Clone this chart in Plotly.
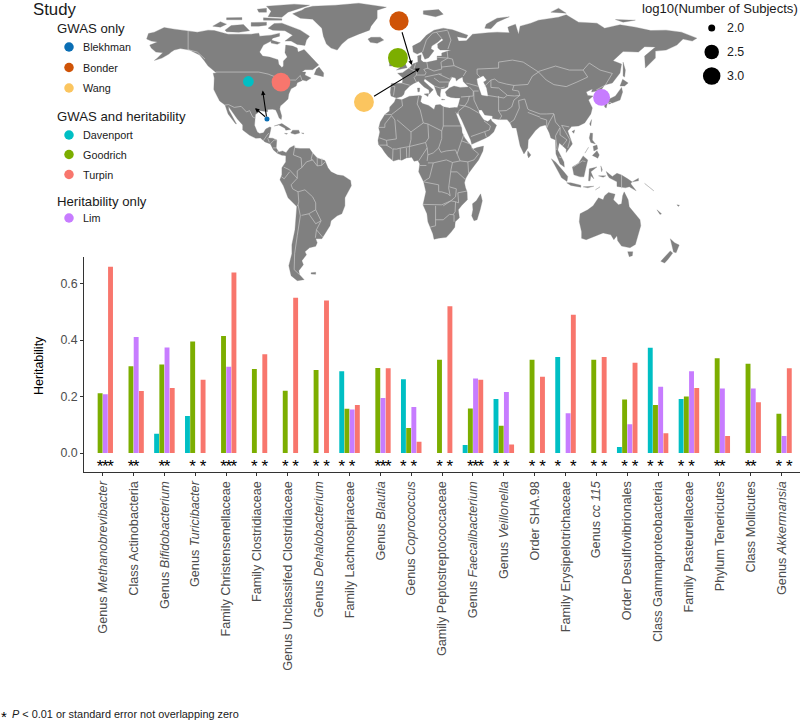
import numpy as np
import plotly.graph_objects as go

# ---------- bar chart data ----------
categories = ["Genus <i>Methanobrevibacter</i>", "Class Actinobacteria", "Genus <i>Bifidobacterium</i>",
              "Genus <i>Turicibacter</i>", "Family Christensenellaceae", "Family Clostridiaceae",
              "Genus Unclassifed Clostridiaceae", "Genus <i>Dehalobacterium</i>", "Family Lachnospiraceae",
              "Genus <i>Blautia</i>", "Genus <i>Coprococcus</i>", "Gamily Peptostreptococcaceae",
              "Genus <i>Faecalibacterium</i>", "Genus <i>Veillonella</i>", "Order SHA.98",
              "Family Erysipelotrichaceae", "Genus <i>cc 115</i>", "Order Desulfovibrionales",
              "Class Gammaproteobacteria", "Family Pasteurellaceae", "Phylum Tenericutes",
              "Class Mollicutes", "Genus <i>Akkermansia</i>"]
davenport = [None, None, 0.068, 0.131, None, None, None, None, 0.29, None, 0.261, None, 0.028, 0.191, None,
             0.34, None, 0.021, 0.373, 0.191, None, None, None]
goodrich = [0.212, 0.307, 0.314, 0.395, 0.415, 0.298, 0.221, 0.294, 0.157, 0.301, 0.089, 0.33, 0.158, 0.097,
            0.33, None, 0.33, 0.19, 0.17, 0.2, 0.336, 0.316, 0.139]
lim = [0.208, 0.411, 0.374, None, 0.306, None, None, None, 0.154, 0.195, 0.163, None, 0.264, 0.216, None,
       0.141, None, 0.102, 0.235, 0.29, 0.229, 0.229, 0.06]
turpin = [0.66, 0.22, 0.23, 0.26, 0.64, 0.35, 0.55, 0.54, 0.17, 0.30, 0.04, 0.52, 0.26, 0.03, 0.27, 0.49,
          0.34, 0.32, 0.07, 0.23, 0.06, 0.18, 0.30]
# which studies are significant in each category: D, G, L, T
significant = ["GLT", "GL", "GL", "GT", "GLT", "GT", "GT", "GT", "DL", "GLT", "DL", "GT", "GLT", "DL", "GT",
               "DT", "GT", "GT", "DL", "DL", "GL", "GL", "GT"]
y_ticks = [0.0, 0.2, 0.4, 0.6]

# ---------- study data ----------
study_names = ["Blekhman", "Bonder", "Wang", "Davenport", "Goodrich", "Turpin", "Lim"]
study_lon = [-89.7, -3.8, -26.6, -101.8, -4.5, -80.6, 128.0]
study_lat = [25.5, 74.6, 34.0, 44.3, 56.1, 44.0, 36.3]
study_log10n = [1.9, 3.15, 3.2, 2.25, 3.2, 3.1, 2.9]
study_groups = [("GWAS only", ["Blekhman", "Bonder", "Wang"]),
                ("GWAS and heritability", ["Davenport", "Goodrich", "Turpin"]),
                ("Heritability only", ["Lim"])]
size_legend_values = [2.0, 2.5, 3.0]
# arrows: (tail lon, tail lat, head lon, head lat)
arrows = [(-89.9, 26.0, -92.5, 39.7), (-89.9, 26.0, -97.5, 30.9),
          (-2.1, 69.7, 4.5, 52.5), (-21.0, 36.4, 9.8, 50.9)]

# ---------- map outlines (lon, lat) ----------
land = [
 # North America
 [(-168,65.6),(-166.8,68.3),(-163,69),(-156.6,71.3),(-150,70.5),(-141,69.6),(-135,69),(-128,70),(-124,69.8),(-115,68),(-108,68),(-100,68),(-95,68.5),(-94.5,67),(-87,67.5),(-81.5,68.5),(-81.5,67),(-86,66),(-87,64.5),(-92,62.5),(-94.5,59),(-92.5,57),(-88,56.5),(-82.5,55.2),(-82,52.9),(-80,51.3),(-79,52),(-79,54.5),(-76.5,56.5),(-78,58.7),(-77.5,62.5),(-73,62),(-70,61),(-69.5,59),(-65.5,60.3),(-62,57.5),(-60,55.5),(-56,52.5),(-60,50.2),(-65,50.2),(-67,49),(-64.5,49),(-65,47.5),(-61,46),(-64,44.5),(-66.5,45),(-67,44.7),(-70,43.7),(-70.7,42),(-74,40.6),(-75.5,38),(-76,35.5),(-78,34),(-81,32),(-81.4,30.5),(-80.1,27),(-80.4,25.2),(-81.8,26),(-82.8,28),(-84,30),(-86,30.4),(-89.3,30.2),(-89.3,29.1),(-91,29.3),(-94,29.6),(-97.2,27.7),(-97.7,24),(-97.8,22.3),(-96,19),(-94.5,18.2),(-92,18.6),(-90.5,20.5),(-88,21.5),(-87,21.2),(-87.8,18.2),(-88.8,16),(-86,15.9),(-83.3,15),(-83.7,11),(-82,9),(-79.5,9.5),(-77.3,8.6),(-77.9,7.2),(-80,7.3),(-81.5,7.8),(-83,8.3),(-85.5,10),(-87.5,13),(-91,14),(-94,16),(-97,15.8),(-101,17.3),(-105.5,20),(-105.5,22.5),(-109,25.5),(-112.5,29),(-114.7,31.7),(-114.5,30),(-111,25),(-109.5,23),(-110.3,23.2),(-112.3,25.5),(-115,28),(-117,32.5),(-120.5,34.5),(-122.5,37.5),(-124.3,40.3),(-124,46),(-124.7,48.4),(-122.5,48.5),(-125,50),(-128,52),(-130.5,54.7),(-133.5,57.5),(-137.5,59),(-140,60),(-146,60.8),(-150,60),(-152,59),(-153.5,58),(-158,56),(-163,54.8),(-161,56),(-157.5,58.7),(-162,59),(-165,61),(-166,62.5),(-161,64),(-165,64.5)],
 # Arctic Canada
 [(-80,73.5),(-72,71.3),(-68,70),(-62,67),(-64,65),(-65,62.3),(-70,62.8),(-74,64.5),(-78,64.5),(-73,67.5),(-78,69.7),(-86,70),(-89,71),(-85,73.3)],
 [(-117,70),(-113,72.3),(-105,72.8),(-101,69.7),(-108,68.9),(-116,69.2)],
 [(-125,72),(-120,74.2),(-116,73),(-120,71.5)],
 [(-89,76.7),(-80,76.4),(-76,79),(-65,81.5),(-62,82.5),(-72,83),(-90,82),(-87,79.5)],
 [(-92,75),(-80,75),(-80,75.7),(-92,76.2)],
 [(-95,79),(-90,79),(-90,81),(-96,80.5)],
 [(-116,75.2),(-106,75.2),(-106,76.3),(-116,76.2)],
 [(-100,72),(-95,72),(-90,72.5),(-90,74),(-100,73.8)],
 [(-87,65),(-81,63.7),(-83,62.9),(-87,63.5)],
 [(-59,47.8),(-53,46.7),(-52.8,48.5),(-55.8,51.5),(-57.5,50.5)],
 # Caribbean
 [(-85,22),(-80,23.2),(-75,20.7),(-74.2,20.2),(-77.5,19.9),(-78,20.8),(-82,22.5)],
 [(-74.3,18.5),(-73,19.9),(-69,19.9),(-68.4,18.5),(-71.5,17.8)],
 [(-78.3,18.3),(-76.3,18.2),(-77,17.8)],
 [(-67.2,18.5),(-65.7,18.4),(-66,18)],
 # Greenland, Iceland
 [(-73,78.2),(-68,76),(-60,75.5),(-54,71),(-53,67),(-51,63),(-48,61),(-44,60),(-41,63),(-37,65.7),(-30,68),(-23,70),(-22,72),(-18,76),(-18,80),(-12,81.5),(-30,83.5),(-45,82.5),(-60,82),(-65,81),(-67,80)],
 [(-24,65.5),(-22,66.4),(-16,66.5),(-13.7,65),(-18,63.4),(-22.5,63.9)],
 # South America
 [(-77.3,8.6),(-75,11),(-72,12.2),(-71.5,11),(-68,10.7),(-64,10.5),(-62,10.7),(-60,8.4),(-57,6),(-52,4.7),(-50,1),(-48,-1),(-44,-2.5),(-40,-2.9),(-35.3,-5.3),(-34.8,-8),(-37,-11),(-39,-14),(-39,-18),(-41,-22),(-44,-23),(-48,-25.5),(-48.7,-28),(-52,-32.5),(-54,-34.5),(-58,-34.5),(-57,-36.5),(-58,-38.3),(-62,-39),(-65,-41),(-64,-42.5),(-67,-45.5),(-66,-47.5),(-69,-50.5),(-68.5,-52.5),(-65.5,-55),(-70,-55.5),(-74,-53),(-75.5,-48),(-73.5,-42),(-73.5,-37.5),(-71.5,-30),(-70.5,-23),(-70.3,-18.3),(-76,-14),(-79,-8),(-81.3,-5),(-80,-2.5),(-80,1),(-77.5,4),(-77.4,7),(-77.9,7.2)],
 [(-61,-51.5),(-58,-51.3),(-58,-52.3),(-61,-52.2)],
 # Africa
 [(-5.9,35.8),(-2,35.1),(3,36.9),(10,37.3),(11,36.9),(10.2,34.3),(11.5,33.2),(15.5,32.3),(19,30.3),(20,32.5),(23,32.7),(25,31.6),(29,31),(32.3,31.2),(32.5,29.9),(33.8,27),(35.5,24),(37,21),(37.3,18.7),(39,16),(41.5,13.5),(43.3,12),(43.2,11.5),(44.5,10.4),(47,11.2),(51.2,11.9),(50.8,9.5),(48,5),(45,2),(41.5,-1.7),(39.5,-4.5),(38.8,-6.5),(39.5,-9),(40.5,-11),(40.7,-15),(37,-17.8),(34.8,-20),(35.5,-24),(32.8,-26),(32.5,-28.7),(30,-31.3),(27,-33.8),(22,-34.2),(19,-34.8),(18.2,-32),(16.5,-28.7),(15,-26),(14.4,-22),(11.8,-17.5),(13.7,-11),(12.2,-6),(9,-1),(9.7,3),(8.5,4.7),(6,4.3),(4.5,6.3),(1,6),(-2,4.8),(-4,5.2),(-7.5,4.4),(-11,6.7),(-13.3,9),(-15,11),(-17,12.5),(-17.5,14.7),(-16.3,19),(-17,21),(-16,24),(-13,27.7),(-10,29.5),(-9.8,31.5),(-6.8,34)],
 [(49.3,-12),(50.4,-15.5),(49,-20),(47,-25),(45,-25.5),(43.5,-23),(44.3,-20),(44,-17),(46.5,-15.5)],
 # Eurasia
 [(-9,37),(-9.5,38.8),(-8.8,43.3),(-1.7,43.4),(-1.2,46),(-4.7,48.4),(-1.5,48.7),(1.5,50.5),(3.5,51.4),(5,53),(8.5,54),(8.3,57),(10.6,57.7),(10.5,55),(12,54),(14.3,53.9),(18.5,54.7),(21,55),(21,57),(24,57),(24,58.5),(28,59.5),(30,60),(23,60),(21.5,61),(21.3,63),(25,65),(24,65.8),(21.5,64),(17.5,62),(17,60.7),(19,59.7),(16.5,57),(15.5,56.2),(13,55.4),(11,59),(8,58),(5.5,59),(5,62),(10,64),(14,67.5),(19,70),(25,71),(31,70.2),(41,67.5),(40,66),(34,66.7),(35,64.5),(40,64.7),(44,68),(54,68.7),(60,69),(68,68.7),(67,71.5),(72,73),(74,68),(75,72),(82,73.5),(87,75),(100,76.5),(105,77.7),(113,74),(125,73.5),(130,71),(140,72.7),(150,71.5),(160,69.8),(170,70),(180,69),(190,66),(187,64.5),(181,65.5),(177,62.5),(170,60),(163,59.5),(163,56),(156.5,51),(156,57),(163,61.5),(156,61.7),(152,59),(142,59.3),(135.5,54.7),(141,53),(140,48.5),(135,43.5),(130,42.5),(127.5,39.8),(129.5,36.5),(126.5,34.5),(126,37),(125,39.5),(121.5,39),(122,40.5),(118,39),(119,37.3),(122.5,37),(119.5,35),(122,31),(121,28),(117,23.5),(113,22),(108.5,21.7),(106,19.5),(109,13),(107,10.5),(105,8.7),(105,10.3),(102,12.5),(100.5,13.5),(99.5,10),(103.5,4),(103.8,1.4),(101,3),(98.3,8),(98,15),(95,16),(94,18.5),(91.5,22.5),(88,21.7),(85,19.7),(80.3,15),(80,11),(77.5,8),(75,12),(73,18),(72.5,21),(70,21),(68.5,23.5),(66.5,25.2),(61,25.2),(57,25.7),(57,27),(52,27.5),(50,30),(48,30),(48.3,28.5),(50,26.5),(51.5,25),(54,24.2),(56,25.5),(56.5,24.5),(59.7,22.4),(57.8,19),(55,17),(52,15.7),(45,13),(43.5,12.8),(42.8,15),(41,18.5),(39,21.5),(37,25),(35,28),(34.8,29.5),(34,28),(33,29),(32.5,29.9),(32.3,31.2),(34.2,31.3),(35,33),(36,36),(33,36),(30,36.3),(27.3,37),(26.3,39),(29,41),(32,42),(36,41.3),(41.5,41.5),(38,44.3),(37.5,46.5),(35,45.5),(33.5,44.5),(33,46),(30.7,46.5),(28.5,43.5),(28,41.5),(26,40.8),(23.5,40.5),(23,38),(23,36.5),(21.3,37.5),(19.5,41.5),(19,42.3),(14,45),(13,45.7),(12.3,44.5),(16,41.8),(18.5,40.2),(17,39),(16,38),(15.7,40),(12.5,41.5),(10.5,43),(8.8,44.4),(5.5,43.2),(3.2,42),(0,39.5),(-0.7,37.7),(-2,36.8),(-5.5,36)],
 [(80,9.5),(82,7.5),(80.5,6),(79.8,7.5)],
 [(-5.5,50),(1.5,51.2),(0,53.5),(-2,56),(-2,57.7),(-5,58.6),(-6,56.5),(-3,54.5),(-5,52),(-3,51.3)],
 [(-10,52),(-6,52),(-6,55),(-8,55.3),(-10,54)],
 [(12.5,38),(15.5,38.2),(15,36.7)],
 [(8.2,41),(9.7,41),(9.5,39.2),(8.5,39)],
 [(24,35.5),(26.2,35.2),(24,35)],
 [(52,71),(56,70.7),(60,74),(68,76.7),(60,76),(53,73)],
 [(12,78),(20,76.7),(25,78),(22,80.3),(12,79.7)],
 [(95,79),(105,78.5),(100,81)],
 [(137,75.3),(150,75),(142,74)],
 [(142,54),(143.5,50),(143,46.5),(142,47),(142,51)],
 # Japan, East and South-East Asia
 [(130.9,34),(135,33.5),(140,35),(141.7,39),(141,41.3),(139.8,40),(137,37),(133,35.5)],
 [(130,33.5),(131.7,33.3),(131,31),(130,31.5)],
 [(132.5,34),(134.5,34),(134,33.3),(132.7,32.9)],
 [(140,42),(141.7,45.4),(145.3,43.5),(143,42)],
 [(120.2,23),(121.5,25.2),(121,22)],
 [(108.7,19.2),(110.5,20),(110,18.3)],
 [(120,16),(120.7,18.5),(122.2,18.3),(122,15),(124,13),(121,13.7)],
 [(122,7.2),(125,9.6),(126.5,7.5),(125.5,5.8),(124,6.5)],
 [(122.5,11.8),(125,12.5),(125.5,10.5),(123,9.5)],
 [(117.2,8.4),(119.5,11.3),(119,10)],
 [(109,1.5),(111.5,2.7),(113,3.3),(116,7),(119,5),(117.8,1),(116.5,-3.5),(114,-3.5),(110,-2.5)],
 [(95.3,5.6),(98,4),(103.5,-1),(106,-3.3),(105.5,-5.8),(102,-4),(98.5,1)],
 [(105.3,-6.5),(108,-6.5),(114.5,-7.7),(114.5,-8.7),(108,-7.8)],
 [(119.5,-5.5),(120,0.5),(125,1.5),(121,-1),(123,-4.5),(121,-3),(120.5,-5.5)],
 [(116,-8.5),(123,-8.2),(119,-9)],
 [(124,-10),(127,-8.5),(125,-9.8)],
 [(127.5,2),(128.5,0),(128,-1)],
 [(126,-3),(130.8,-3),(129,-3.7)],
 # New Guinea, Pacific
 [(131,-0.8),(135,-3.3),(138,-1.7),(141,-2.6),(145,-4.5),(147.8,-6),(147,-7),(150.5,-10.5),(146,-8.5),(143.5,-9),(138,-8.3),(138,-6),(133,-4),(132,-2.8)],
 [(148,-6),(152,-4.2),(152,-5.5)],
 [(156,-6.8),(160,-9),(162,-10.5),(158,-8)],
 [(164,-20),(167,-22),(166,-22.3)],
 [(177,-17.5),(178.7,-17.7),(178,-18.3)],
 # Australia, New Zealand
 [(114,-22),(113.5,-26),(115,-31),(115,-34.3),(118,-35),(124,-33),(129,-31.6),(134,-32.5),(136,-35),(138,-33),(138.5,-35.5),(141,-38.2),(146.5,-39),(150,-37.4),(151.5,-33),(153.5,-28),(153,-25),(149,-21),(146,-18.5),(145.3,-15),(142.7,-11),(141.7,-13),(141,-17),(139,-17.5),(135.7,-15),(136.8,-12.2),(132.5,-11.3),(130,-13),(129,-15),(126,-14),(122.5,-18),(119,-20)],
 [(145,-41),(148.3,-41),(148,-43),(146,-43.5)],
 [(172.7,-34.5),(175.5,-36.5),(178.5,-37.7),(176.5,-41.5),(174.8,-41.2),(174,-39)],
 [(172.7,-40.6),(174.3,-41.7),(171,-45),(169,-46.7),(166.5,-45.8),(170,-43)],
]
water = [[(47,45.5),(51,47),(53,45),(51,44),(53,41),(54,37),(50,37.5),(49,39.5),(47.5,43)]]
borders = [
 [(-123,49),(-95,49),(-89,48),(-84,46.5),(-82.5,43),(-79,43),(-75,45),(-71,45),(-68,47.3),(-67,45)],
 [(-141,69.6),(-141,60.2),(-135,59),(-130,55.5)],
 [(-117,32.5),(-114.7,32.7),(-111,31.3),(-106.5,31.8),(-103,29),(-101,29.7),(-99,26.5),(-97.2,25.9)],
 [(-92.2,14.5),(-91,16),(-89.2,17.9),(-88.3,18.4)],[(-89.2,15.9),(-88.2,13.8)],[(-87.5,13),(-85,15),(-83.2,15)],
 [(-85.7,11),(-83.7,11)],[(-83,8.5),(-82.6,9.6)],
 [(-71.5,12),(-72.5,7.5),(-67.5,6),(-67,1.2)],[(-60,8.4),(-61,5.2),(-60,5)],
 [(-60,5),(-64,4),(-67,1.2),(-70,-0.5),(-70,-4.2),(-74,-7.5),(-73,-9.5),(-69.5,-11),(-65,-10),(-60,-13.5),(-58,-16.5),(-58,-20),(-54.5,-25.5),(-57.5,-30),(-53.5,-33.7)],
 [(-60,5),(-57,2),(-54,2.3),(-51.7,4.2)],[(-57,2),(-57,6)],[(-54,2.3),(-54,5.8)],
 [(-78.8,1.4),(-75,0),(-70,-4.2)],[(-80.3,-3.4),(-78.5,-4.5),(-75,-1)],
 [(-69.5,-11),(-69,-16),(-69.5,-17.5),(-70.3,-18.3)],
 [(-69.5,-17.5),(-68,-23),(-70,-33),(-71.7,-42),(-72,-50),(-68.5,-52.5)],
 [(-67.2,-22.8),(-62.5,-22),(-58,-20)],[(-62.5,-22),(-58,-27),(-54.5,-25.5)],[(-58.2,-34),(-57.5,-30)],
 [(-2,35),(-1.5,32),(-8.7,27.7),(-13,27.7)],[(-17,21.3),(-13,21.3),(-13,23),(-8.7,27.2)],
 [(-16.5,16),(-12,14.8),(-5.5,15.5),(-6.5,25),(-8.7,27.2)],[(-5,25),(4,19),(4,15.3),(3,11.7)],
 [(4,19),(12,23.5),(10,30),(8,33),(9,37)],[(12,23.5),(15,23),(24,19.5),(25,22),(25,31.6)],[(25,22),(36.8,22)],
 [(15,23),(15.5,16),(13.5,13.7)],[(24,19.5),(24,15.7),(22,11),(23.5,8.8)],
 [(3,11.7),(2.8,6.3)],[(3,11.7),(13.5,13.7),(14.5,11),(9,4.5)],[(-8,4.5),(-7.7,10.5),(-5.5,10.4),(-3,10.9),(-2.8,5)],
 [(1,11),(1.2,6.1)],[(-3,10.9),(3,11.7)],[(-12,14.8),(-11.5,12.4),(-16.7,12.4)],[(-12,12.4),(-8,10.5)],
 [(14.5,11),(15,7.5),(14.5,4.5)],[(15,7.5),(18.5,8.5),(22,11)],[(15,3.5),(18.5,3.5),(27,5),(31,3.7)],[(9.7,2.2),(14,2.2)],
 [(18.5,3.5),(16,-4),(12.2,-5.8)],[(12.2,-6),(22,-7.5),(22,-11),(24,-11),(28,-12),(29.5,-13),(28.5,-9),(29.2,-4.5),(30,0),(31,3.7)],
 [(11.8,-17.3),(24,-17.5)],[(24,-17.5),(30,-15.5),(33,-13.5),(33.5,-9.5),(29,-8.5)],
 [(20,-18),(20,-28),(16.5,-28.7)],[(20,-25),(25,-25),(29,-22.3),(32,-22.5),(32,-26)],
 [(25,-18),(30,-15.5),(33,-16),(32.7,-21),(31.5,-22.3)],[(33,-16),(35,-16.5),(34.5,-11.5),(40.5,-10.6)],
 [(39.2,-4.7),(34,-1),(30,-1)],[(41.5,-1.7),(41,4),(36,4.5),(34,4.2),(31,3.7)],
 [(36,4.5),(34,8),(36,12.5),(37,14.5),(38.5,18)],[(37,14.5),(42.5,13)],[(41,4),(45,5),(48,8),(43.3,11)],
 [(23.5,8.8),(27,9.5),(33,10),(34,8)],
 [(-1.7,43.4),(3.2,42.4)],[(-8.8,42),(-6.5,41.7),(-7.4,37.2)],[(2.5,51),(6,49.5),(8,49),(7.5,47.5),(6,46.2),(7.5,44)],
 [(14.3,53.9),(15,51),(12.3,50.3),(13.8,48.7),(13,47.5),(7.5,47.5)],[(6,50.8),(7,53.3)],[(14.5,51),(19,49.5),(24,50.5),(23.5,54)],
 [(21,56.4),(28,56),(27.5,59.5)],[(23.5,54),(28,56)],[(24,51.5),(32,52.2),(31,55.5),(28,56)],
 [(24,48),(22,48),(29,45.5),(30.5,46.5)],[(32,52.2),(40,49.5),(38,47)],[(22,48),(16,47),(13,46.5)],
 [(19,46),(22.5,44),(29,44)],[(19,42),(23,41),(26,41.5)],[(11.5,59),(12.5,61),(14,65),(18,68.5),(20.5,69),(28,70)],
 [(24,65.8),(20.5,69)],[(28,69.5),(30,65),(28,60.5)],
 [(49,46.5),(47,48),(47,50.5),(55,51),(61,51),(61,54),(70,55),(77,54),(87,49)],
 [(52,42),(56,45),(58.5,45.5),(61,44),(66,43),(71,42.3),(80,42.8),(83,47),(87,49)],
 [(87,49.3),(98,52),(107,50),(116,50),(120,53.5),(127,50),(135,48.3),(131,43),(130.5,42.5)],
 [(87,49),(92,45),(97,42.7),(105,41.7),(112,44),(119,46.5),(116,50)],[(40,43.5),(48,41.8)],
 [(42,41.5),(44.5,39.5),(44.5,37),(36.5,36.5)],[(48,39.5),(44.8,39.5),(45,35),(48,30)],
 [(61,37),(60.7,31),(61,29.5),(63,27),(61.6,25.2)],[(54,37.3),(61,36.5),(64.5,36),(66.5,37.3),(71.5,37),(74.8,37.3)],
 [(74.8,37.3),(71,35),(69.5,31.5),(66,29.7),(61,29.5)],[(56,45),(56,41.3),(61,41),(66.5,37.5)],[(71,42.3),(70,40),(74,39.5),(74.8,37.3)],
 [(68.5,23.7),(71,25),(74.5,31),(74,34.7),(78,35.5)],[(78,35.5),(80,30.5),(81,30),(88,28),(92,28),(97,28.2)],[(80,28.8),(88,26.4)],
 [(88,26),(92.3,25),(92.3,21)],[(92.3,21),(94,24),(97,28)],[(97,28),(98,24),(101,21.3)],[(102,22.3),(107,21.5)],
 [(102,22.3),(105,18),(107.5,15),(106,11)],[(101,21.3),(98,17),(99,11),(98.7,10)],[(101,21),(101,17.5),(105.5,15),(102.5,12)],
 [(100.2,6.5),(102,6)],[(35,29.5),(39,32),(42,31.2),(46.5,29),(48,28.5)],[(43,16.7),(52,19),(55,20),(55.7,22),(51.5,24.5)],
 [(52,19),(53,16.5)],[(42,37),(41,34.4),(39,32),(35.5,32.5)],[(124.5,40),(130.5,42.5)],[(125,38),(128.5,38.5)],
 [(109.7,1.5),(115.5,4.5),(117.5,4.2)],[(141,-2.6),(141,-9.2)],
]

# ---------- styles ----------
W, H = 800, 720
colors = dict(Blekhman="#0A6EB4", Bonder="#CF5307", Wang="#FBC55F", Davenport="#00BFC4",
              Goodrich="#7CAE00", Turpin="#F8766D", Lim="#C77CFF")
FONT = "Liberation Sans, Arial, sans-serif"
LAND = "#808080"
BORDER = "#C9C9C9"
SIZE_LEGEND_D = [7, 14.5, 17.5]


def dia(v):
    return np.interp(v, [1.9] + size_legend_values + [3.25], [5] + SIZE_LEGEND_D + [20.5])


def unpack(polys, close):
    xs, ys = [], []
    for p in polys:
        q = p + [p[0]] if close else p
        xs += [a for a, _ in q] + [None]
        ys += [b for _, b in q] + [None]
    return xs, ys


fig = go.Figure()

# map (lon/lat axes spanning the whole page)
lx, ly = unpack(land, True)
fig.add_trace(go.Scatter(x=lx, y=ly, mode="lines", fill="toself", fillcolor=LAND,
                         line=dict(color=LAND, width=0.3), xaxis="x2", yaxis="y2", hoverinfo="skip"))
wx, wy = unpack(water, True)
fig.add_trace(go.Scatter(x=wx, y=wy, mode="lines", fill="toself", fillcolor="white",
                         line=dict(color="white", width=0.3), xaxis="x2", yaxis="y2", hoverinfo="skip"))
bx, by = unpack(borders, False)
fig.add_trace(go.Scatter(x=bx, y=by, mode="lines", line=dict(color=BORDER, width=0.7),
                         xaxis="x2", yaxis="y2", hoverinfo="skip"))
fig.add_trace(go.Scatter(x=study_lon, y=study_lat, mode="markers", text=study_names,
                         marker=dict(size=[float(dia(v)) for v in study_log10n], opacity=1,
                                     color=[colors[n] for n in study_names], line=dict(width=0)),
                         xaxis="x2", yaxis="y2", hoverinfo="text"))

# bars
series = [("Davenport", davenport), ("Goodrich", goodrich), ("Lim", lim), ("Turpin", turpin)]
xs = list(range(len(categories)))
for name, vals in series:
    fig.add_trace(go.Bar(x=xs, y=vals, name=name, marker=dict(color=colors[name], line=dict(width=0))))

GROUP_W = 0.675
slot = {"D": -1.5, "G": -0.5, "L": 0.5, "T": 1.5}
sx = [i + slot[c] * GROUP_W / 4 for i, s in enumerate(significant) for c in s]
fig.add_trace(go.Scatter(x=sx, y=[-0.052] * len(sx), mode="text", text=["*"] * len(sx),
                         textfont=dict(family=FONT, size=17, color="black"), textposition="middle center",
                         cliponaxis=False, hoverinfo="skip"))

# legends, on a page-pixel overlay
ann = []


def label(x, y, text, size, color="#1a1a1a", anchor="left"):
    ann.append(dict(x=x / W, y=1 - y / H, xref="paper", yref="paper", text=text, showarrow=False,
                    xanchor=anchor, yanchor="middle", font=dict(family=FONT, size=size, color=color),
                    borderpad=0, borderwidth=0))


label(33, 10, "Study", 16.8)
header_y = [29, 117, 201]
item_y = [[47, 67.5, 88], [135, 154.5, 174.5], [218]]
gx, gy, gc = [], [], []
for (title, names), hy, ys in zip(study_groups, header_y, item_y):
    label(56.5, hy, title, 13.2)
    for n, y in zip(names, ys):
        label(82.5, y, n, 10.8)
        gx.append(69); gy.append(y); gc.append(colors[n])
fig.add_trace(go.Scatter(x=gx, y=gy, mode="markers", marker=dict(size=9.5, color=gc, line=dict(width=0)),
                         xaxis="x3", yaxis="y3", hoverinfo="skip"))
label(641.5, 8.5, "log10(Number of Subjects)", 13.1)
size_y = [28, 52, 76]
fig.add_trace(go.Scatter(x=[711.7] * 3, y=size_y, mode="markers",
                         marker=dict(size=SIZE_LEGEND_D, opacity=1, color="black", line=dict(width=0)),
                         xaxis="x3", yaxis="y3", hoverinfo="skip"))
for v, y in zip(size_legend_values, size_y):
    label(726.7, y, f"{v:.1f}", 12.4)

ann.append(dict(x=39 / W, y=1 - 366 / H, xref="paper", yref="paper", text="Heritability", showarrow=False,
                textangle=-90, xanchor="center", yanchor="middle", font=dict(family=FONT, size=12.5, color="black")))
label(0.5, 716, "*", 15, "black")
label(12, 714, "<i>P</i> &lt; 0.01 or standard error not overlapping zero", 10.9, "#1a1a1a")

for x0, y0, x1, y1 in arrows:
    ann.append(dict(x=x1, y=y1, ax=x0, ay=y0, xref="x2", yref="y2", axref="x2", ayref="y2", text="",
                    showarrow=True, arrowhead=2, arrowsize=0.8, arrowwidth=1.1, arrowcolor="black", standoff=0))

no_axis = dict(visible=False, fixedrange=True, showgrid=False, zeroline=False)
fig.update_layout(
    width=W, height=H, margin=dict(l=0, r=0, t=0, b=0), paper_bgcolor="white", plot_bgcolor="rgba(0,0,0,0)",
    showlegend=False, barmode="group", bargap=1 - GROUP_W, bargroupgap=0.06, annotations=ann,
    font=dict(family=FONT),
    xaxis=dict(domain=[84.2 / W, 1], range=[-0.6, 22.6], tickmode="array", tickvals=xs, ticktext=categories,
               tickangle=-90, ticks="outside", ticklen=3, tickwidth=0.8, tickcolor="#333333",
               tickfont=dict(family=FONT, size=12.65, color="#4D4D4D"), showgrid=False, zeroline=False,
               showline=True, linecolor="#333333", linewidth=1.2, anchor="y"),
    yaxis=dict(domain=[1 - 472 / H, 1 - 257 / H], range=[-0.0673, 0.6945], tickmode="array", tickvals=y_ticks,
               tickformat=".1f", ticks="outside", ticklen=3, tickwidth=0.8, tickcolor="#333333",
               tickfont=dict(family=FONT, size=12.4, color="#4D4D4D"), showgrid=False, zeroline=False,
               showline=True, linecolor="#333333", linewidth=1.2, anchor="x"),
    xaxis2=dict(no_axis, domain=[0, 1], range=[-263.4, 257.1], anchor="y2"),
    yaxis2=dict(no_axis, domain=[0, 1], range=[-275.6, 85.1], anchor="x2"),
    xaxis3=dict(no_axis, domain=[0, 1], range=[0, W], anchor="y3"),
    yaxis3=dict(no_axis, domain=[0, 1], range=[H, 0], anchor="x3"),
)
fig.write_html("out.html", config=dict(displayModeBar=False),
               post_script="document.body.style.margin='0';")
